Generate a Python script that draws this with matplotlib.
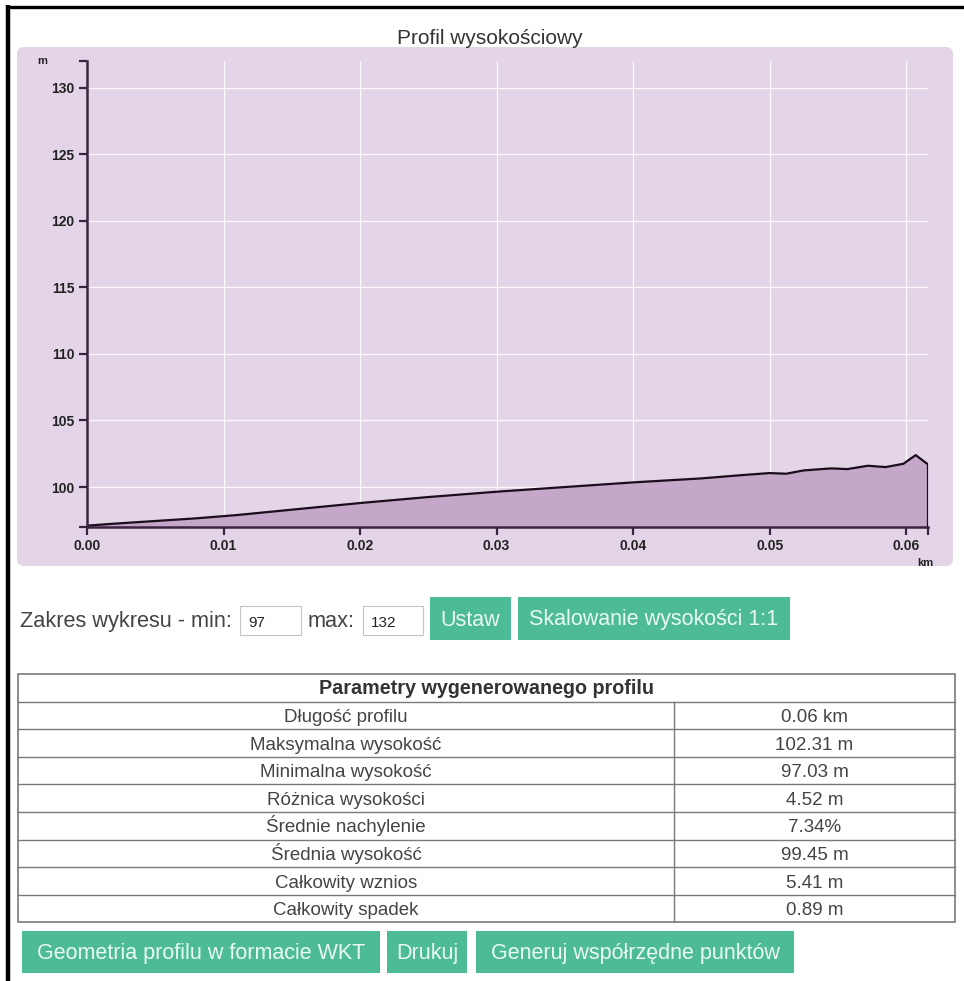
import matplotlib
matplotlib.use("Agg")
import matplotlib.pyplot as plt
from matplotlib.patches import Rectangle, FancyBboxPatch

plt.rcParams['font.family'] = ['Liberation Sans', 'DejaVu Sans']

# dane profilu
dist_km = [0.0, 0.002, 0.005, 0.008, 0.011, 0.014, 0.017, 0.020, 0.025, 0.030,
           0.035, 0.040, 0.045, 0.048, 0.0500, 0.0512, 0.0525, 0.0545, 0.0557,
           0.0572, 0.0585, 0.0598, 0.0607, 0.0616]
elev_m = [97.1, 97.25, 97.45, 97.65, 97.9, 98.2, 98.5, 98.8, 99.25, 99.65,
          100.0, 100.35, 100.65, 100.9, 101.05, 101.0, 101.25, 101.4, 101.35,
          101.6, 101.5, 101.75, 102.4, 101.7]

y_min, y_max = 97, 132
x_ticks = [0.0, 0.01, 0.02, 0.03, 0.04, 0.05, 0.06]
x_ticklabels = ["0.00", "0.01", "0.02", "0.03", "0.04", "0.05", "0.06"]
y_ticks = [100, 105, 110, 115, 120, 125, 130]

title = "Profil wysokościowy"
range_min, range_max = "97", "132"

table_header = "Parametry wygenerowanego profilu"
param_names = ["Długość profilu", "Maksymalna wysokość", "Minimalna wysokość",
               "Różnica wysokości", "Średnie nachylenie", "Średnia wysokość",
               "Całkowity wznios", "Całkowity spadek"]
param_values = ["0.06 km", "102.31 m", "97.03 m", "4.52 m", "7.34%",
                "99.45 m", "5.41 m", "0.89 m"]

top_buttons = [("Ustaw", 430, 511), ("Skalowanie wysokości 1:1", 518, 790)]
bottom_buttons = [("Geometria profilu w formacie WKT", 22, 380),
                  ("Drukuj", 387, 467),
                  ("Generuj współrzędne punktów", 476, 794)]

W, H = 964, 981
purple_bg = "#e3d5e7"
purple_fill = "#c5a8c9"
axis_col = "#3d2342"
green = "#4dbb96"

fig = plt.figure(figsize=(W / 100, H / 100), dpi=100)

# strona (wspolrzedne w pikselach)
page = fig.add_axes([0, 0, 1, 1])
page.set_xlim(0, W)
page.set_ylim(H, 0)
page.axis('off')

page.plot([8, 8], [5, H], color="black", lw=3.2, solid_capstyle='butt')
page.plot([6, W], [6.5, 6.5], color="black", lw=2.4, solid_capstyle='butt')

page.text(490, 38, title, fontsize=15, color="#333333", ha='center', va='center')
page.add_patch(FancyBboxPatch((17, 47), 936, 519,
                              boxstyle="round,pad=0,rounding_size=7",
                              fc=purple_bg, ec="none"))
page.text(37, 61, "m", fontsize=8, fontweight='bold', color="#222222", va='center')
page.text(925, 563, "km", fontsize=8, fontweight='bold', color="#222222",
          ha='center', va='center')

# wykres
ax = fig.add_axes([87 / W, 1 - 527 / H, 841 / W, 466 / H])
ax.set_facecolor("none")
ax.set_xlim(0, dist_km[-1])
ax.set_ylim(y_min, y_max)
ax.fill_between(dist_km, elev_m, y_min, color=purple_fill, lw=0, zorder=2)
ax.plot(dist_km, elev_m, color="#1b0d1c", lw=1.6, zorder=3)
ax.vlines(dist_km[-1], y_min, elev_m[-1], color="#1b0d1c", lw=1.6, zorder=3)

ax.set_xticks(x_ticks)
ax.set_xticklabels(x_ticklabels)
ax.set_yticks(y_ticks)
ax.set_xticks([dist_km[-1]], minor=True)
ax.set_yticks([y_min, y_max], minor=True)
ax.grid(True, which='major', color="white", lw=0.9, alpha=0.9, zorder=1)
ax.set_axisbelow(True)
for s in ['top', 'right']:
    ax.spines[s].set_visible(False)
for s in ['left', 'bottom']:
    ax.spines[s].set_color(axis_col)
    ax.spines[s].set_linewidth(1.8)
    ax.spines[s].set_zorder(4)
ax.tick_params(which='both', direction='out', length=6, width=1.6,
               color=axis_col, labelsize=10, labelcolor="#222222", pad=3)
for lab in ax.get_xticklabels() + ax.get_yticklabels():
    lab.set_fontweight('bold')

# zakres wykresu
page.text(20, 627, "Zakres wykresu - min:", fontsize=15.7, color="#444444", va='baseline')
page.add_patch(Rectangle((240, 606), 61, 29, fc="white", ec="#c4c4c4", lw=0.8))
page.text(248, 627, range_min, fontsize=11, color="#222222", va='baseline')
page.text(308, 627, "max:", fontsize=15.7, color="#444444", va='baseline')
page.add_patch(Rectangle((363, 606), 60, 29, fc="white", ec="#c4c4c4", lw=0.8))
page.text(371, 627, range_max, fontsize=11, color="#222222", va='baseline')


def draw_button(label, x0, x1, y0, y1):
    page.add_patch(Rectangle((x0, y0), x1 - x0, y1 - y0, fc=green, ec="none"))
    page.text((x0 + x1) / 2, y0 + 28.5, label, fontsize=15.5,
              color="#eafaf4", ha='center', va='baseline')


for label, x0, x1 in top_buttons:
    draw_button(label, x0, x1, 597, 640)

# tabela parametrow
tbl_l, tbl_r, col_split = 18, 955, 674
tbl_top, row_h = 674, 27.6
n_rows = len(param_names) + 1
tbl_bot = tbl_top + n_rows * row_h
line_col = "#7a7a7a"

page.add_patch(Rectangle((tbl_l, tbl_top), tbl_r - tbl_l, tbl_bot - tbl_top,
                         fc="white", ec=line_col, lw=1.2))
for i in range(1, n_rows):
    yy = tbl_top + i * row_h
    page.plot([tbl_l, tbl_r], [yy, yy], color=line_col, lw=1.0)
page.plot([col_split, col_split], [tbl_top + row_h, tbl_bot], color=line_col, lw=1.0)

page.text((tbl_l + tbl_r) / 2, tbl_top + 20, table_header, fontsize=14.2,
          fontweight='bold', color="#333333", ha='center', va='baseline')
for i, (name, val) in enumerate(zip(param_names, param_values)):
    yb = tbl_top + (i + 1) * row_h + 20.5
    page.text((tbl_l + col_split) / 2, yb, name, fontsize=13.5, color="#444444",
              ha='center', va='baseline')
    page.text((col_split + tbl_r) / 2, yb, val, fontsize=13.5, color="#444444",
              ha='center', va='baseline')

for label, x0, x1 in bottom_buttons:
    draw_button(label, x0, x1, 931, 973)

fig.savefig("out.png", dpi=100)
